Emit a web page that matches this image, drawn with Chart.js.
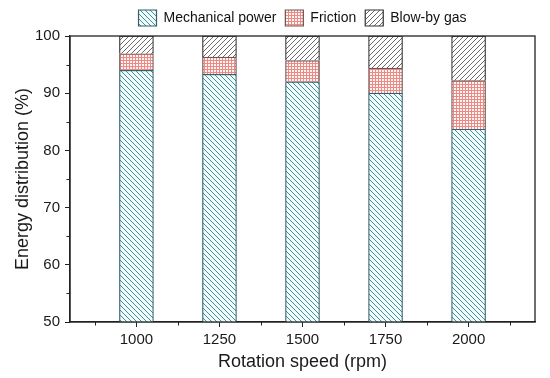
<!DOCTYPE html>
<html>
<head>
<meta charset="utf-8">
<script src="https://cdn.jsdelivr.net/npm/chart.js@4/dist/chart.umd.min.js"></script>
<style>
    html, body { margin: 0; padding: 0; background: #fff; }
    #wrap { width: 550px; height: 378px; }
</style>
</head>
<body>
<div id="wrap"><canvas id="grafico" width="550" height="378"></canvas></div>
<script>
// Dados
const speeds = [1000, 1250, 1500, 1750, 2000];
const mechanical = [94.0, 93.3, 92.0, 90.0, 83.7];
const friction = [2.9, 3.0, 3.7, 4.4, 8.5];
const blowBy = [3.1, 3.7, 4.3, 5.6, 7.8];

const xMinor = [875, 1125, 1375, 1625, 1875, 2125];
const yMinor = [55, 65, 75, 85, 95];

// Padrões de hachura
function diagonal(color, back, dir) {
    const s = 5;
    const c = document.createElement('canvas');
    c.width = s; c.height = s;
    const g = c.getContext('2d');
    g.fillStyle = back;
    g.fillRect(0, 0, s, s);
    g.strokeStyle = color;
    g.lineWidth = 1;
    g.beginPath();
    for (let k = -1; k <= 1; k++) {
        if (dir > 0) {
            g.moveTo(k * s, s); g.lineTo(k * s + s, 0);
        } else {
            g.moveTo(k * s, 0); g.lineTo(k * s + s, s);
        }
    }
    g.stroke();
    return g.createPattern(c, 'repeat');
}

function grid(color, back) {
    const s = 3;
    const c = document.createElement('canvas');
    c.width = s; c.height = s;
    const g = c.getContext('2d');
    g.fillStyle = back;
    g.fillRect(0, 0, s, s);
    g.fillStyle = color;
    g.fillRect(0, 0, s, 1);
    g.fillRect(0, 0, 1, s);
    return g.createPattern(c, 'repeat');
}

const toPoints = arr => speeds.map((s, i) => ({ x: s, y: arr[i] }));

// Ticks menores e moldura
const framePlugin = {
    id: 'frame',
    afterDraw(chart) {
        const { ctx, chartArea: a, scales: { x, y } } = chart;
        ctx.save();
        ctx.strokeStyle = '#222';
        ctx.lineWidth = 1.3;
        ctx.strokeRect(a.left, a.top, a.right - a.left, a.bottom - a.top);
        ctx.lineWidth = 1;
        ctx.beginPath();
        for (const v of xMinor) {
            const px = Math.round(x.getPixelForValue(v)) + 0.5;
            ctx.moveTo(px, a.bottom);
            ctx.lineTo(px, a.bottom + 3.5);
        }
        for (const v of yMinor) {
            const py = Math.round(y.getPixelForValue(v)) + 0.5;
            ctx.moveTo(a.left, py);
            ctx.lineTo(a.left - 3.5, py);
        }
        ctx.stroke();
        ctx.restore();
    }
};

Chart.defaults.font.family = '"Liberation Sans", Arial, sans-serif';
Chart.defaults.color = '#1a1a1a';

new Chart(document.getElementById('grafico'), {
    type: 'bar',
    data: {
        datasets: [
            {
                label: 'Mechanical power',
                data: toPoints(mechanical),
                backgroundColor: diagonal('#3f8f9c', '#f2fcfc', -1),
                borderColor: '#355f69',
                borderWidth: 1.2,
                barThickness: 34
            },
            {
                label: 'Friction',
                data: toPoints(friction),
                backgroundColor: grid('#ec8a86', '#fff4f4'),
                borderColor: '#6b5656',
                borderWidth: 1.2,
                barThickness: 34
            },
            {
                label: 'Blow-by gas',
                data: toPoints(blowBy),
                backgroundColor: diagonal('#6a6a6a', '#ffffff', 1),
                borderColor: '#333333',
                borderWidth: 1.2,
                barThickness: 34
            }
        ]
    },
    options: {
        responsive: false,
        animation: false,
        layout: { padding: { left: 0, right: 15, top: 1, bottom: 0 } },
        plugins: {
            legend: {
                fullSize: false,
                labels: {
                    boxWidth: 18,
                    boxHeight: 16,
                    padding: 9,
                    font: { size: 14 },
                    color: '#111'
                }
            },
            tooltip: { enabled: false }
        },
        scales: {
            x: {
                type: 'linear',
                stacked: true,
                offset: false,
                min: 800,
                max: 2200,
                afterBuildTicks(scale) {
                    scale.ticks = speeds.map(v => ({ value: v }));
                },
                afterFit(scale) { scale.height = 56; },
                grid: { drawOnChartArea: false, offset: false, tickLength: 5, color: '#222', lineWidth: 1 },
                border: { color: '#222', width: 1.3 },
                ticks: { font: { size: 15 }, padding: 4, maxRotation: 0, callback: v => String(v) },
                title: {
                    display: true,
                    text: 'Rotation speed (rpm)',
                    font: { size: 18 },
                    padding: { top: 5, bottom: 5 }
                }
            },
            y: {
                stacked: true,
                min: 50,
                max: 100,
                ticks: { stepSize: 10, font: { size: 15 }, padding: 5 },
                afterFit(scale) { scale.width = 70; },
                grid: { drawOnChartArea: false, tickLength: 5, color: '#222', lineWidth: 1 },
                border: { color: '#222', width: 1.3 },
                title: {
                    display: true,
                    text: 'Energy distribution (%)',
                    font: { size: 18 },
                    padding: { top: 12, bottom: 12 }
                }
            }
        }
    },
    plugins: [framePlugin]
});
</script>
</body>
</html>
